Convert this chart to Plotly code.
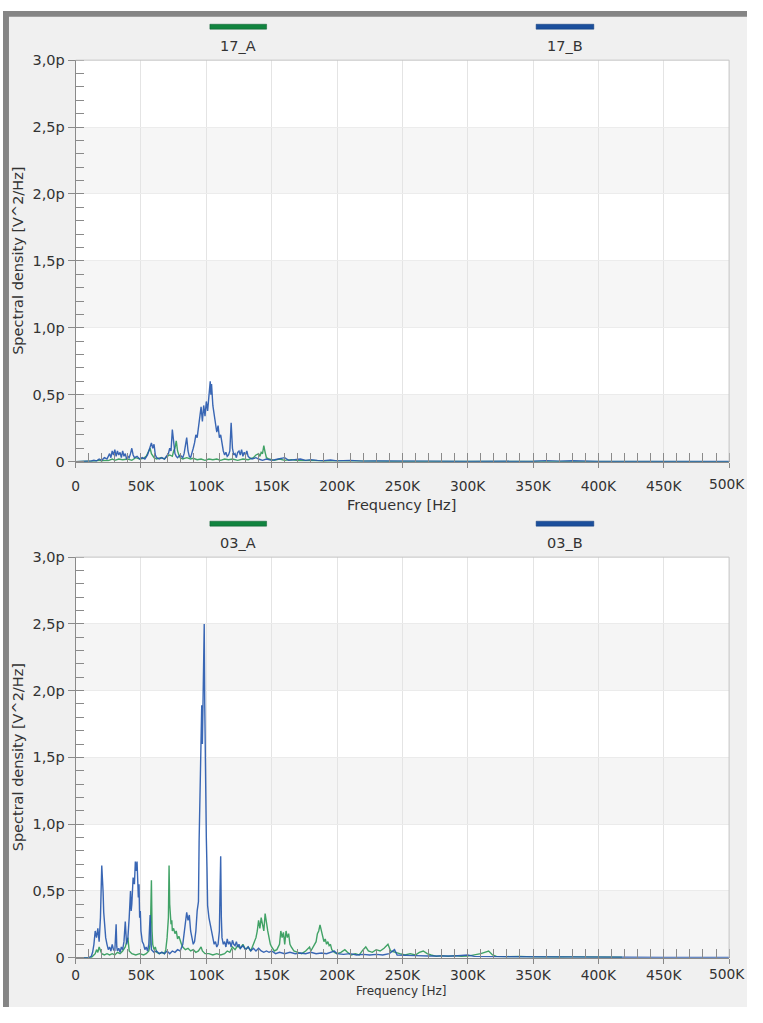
import plotly.graph_objects as go

# ---------------- data (frequency in kHz, spectral density in pV^2/Hz) ----------------
f_17B = [0, 10, 12, 14, 16, 18, 20, 22, 24, 26, 27, 28, 29, 30, 31, 32, 33, 34, 35, 36, 37, 38, 39, 40, 41, 42, 43, 44, 45, 47, 49, 51, 53, 55, 56, 57, 58, 59, 60, 61, 62, 64, 66, 68, 70, 71, 72, 73, 74, 75, 76, 77, 78, 80, 82, 83, 84, 85, 86, 87, 88, 89, 90, 91, 92, 93, 94, 95, 96, 97, 98, 99, 100, 101, 102, 103, 103.5, 104, 105, 106, 107, 108, 109, 110, 111, 112, 113, 114, 115, 116, 117, 118, 119, 120, 121, 122, 123, 124, 125, 126, 127, 128, 129, 130, 131, 132, 133, 135, 138, 140, 143, 146, 150, 155, 160, 163, 168, 172, 176, 180, 185, 190, 195, 200, 210, 220, 230, 250, 270, 300, 330, 350, 360, 370, 380, 390, 400, 420, 450, 500]
v_17B = [0, 0, 0.005, 0.01, 0.005, 0.02, 0.01, 0.03, 0.02, 0.06, 0.03, 0.08, 0.05, 0.09, 0.04, 0.08, 0.05, 0.07, 0.03, 0.08, 0.04, 0.06, 0.02, 0.04, 0.03, 0.06, 0.1, 0.05, 0.03, 0.04, 0.02, 0.03, 0.02, 0.05, 0.08, 0.12, 0.14, 0.1, 0.13, 0.05, 0.03, 0.02, 0.03, 0.02, 0.05, 0.06, 0.1, 0.08, 0.24, 0.12, 0.06, 0.04, 0.03, 0.05, 0.03, 0.06, 0.12, 0.18, 0.08, 0.04, 0.03, 0.06, 0.1, 0.14, 0.2, 0.18, 0.25, 0.3, 0.41, 0.3, 0.42, 0.34, 0.45, 0.38, 0.52, 0.6, 0.5, 0.58, 0.42, 0.35, 0.31, 0.22, 0.27, 0.18, 0.2, 0.12, 0.08, 0.05, 0.07, 0.04, 0.05, 0.08, 0.29, 0.1, 0.05, 0.06, 0.03, 0.07, 0.08, 0.05, 0.09, 0.04, 0.07, 0.05, 0.08, 0.04, 0.03, 0.02, 0.03, 0.02, 0.01, 0.02, 0.01, 0.02, 0.03, 0.01, 0.015, 0.02, 0.01, 0.015, 0.01, 0.008, 0.012, 0.006, 0.01, 0.004, 0.006, 0.003, 0.004, 0.002, 0.002, 0.003, 0.008, 0.004, 0.007, 0.004, 0.002, 0.001, 0.001, 0.001]

f_17A = [0, 12, 15, 18, 20, 22, 25, 28, 30, 33, 36, 40, 43, 46, 49, 52, 54, 56, 57, 58, 60, 62, 65, 68, 70, 72, 74, 75, 76, 77, 78, 79, 80, 82, 85, 88, 90, 93, 96, 99, 102, 105, 108, 111, 114, 117, 120, 124, 128, 132, 136, 138, 140, 141, 142, 143, 144, 145, 146, 148, 152, 156, 160, 165, 170, 180, 190, 200, 220, 250, 300, 350, 400, 450, 500]
v_17A = [0, 0, 0.005, 0.01, 0.005, 0.01, 0.008, 0.02, 0.01, 0.02, 0.015, 0.02, 0.01, 0.03, 0.02, 0.025, 0.04, 0.08, 0.1, 0.06, 0.03, 0.02, 0.03, 0.02, 0.04, 0.05, 0.04, 0.08, 0.1, 0.155, 0.08, 0.05, 0.03, 0.02, 0.03, 0.02, 0.025, 0.015, 0.02, 0.01, 0.02, 0.015, 0.02, 0.01, 0.02, 0.015, 0.02, 0.01, 0.02, 0.015, 0.03, 0.05, 0.06, 0.04, 0.07, 0.06, 0.12, 0.07, 0.03, 0.02, 0.01, 0.02, 0.01, 0.015, 0.008, 0.01, 0.005, 0.006, 0.003, 0.002, 0.001, 0.001, 0.001, 0.0005, 0.0005]

f_03B = [0, 10, 12, 13, 14, 15, 16, 17, 18, 19, 20, 20.5, 21, 21.5, 22, 23, 24, 25, 26, 27, 28, 29, 30, 31, 31.5, 32, 33, 34, 35, 36, 37, 38, 39, 40, 41, 42, 42.5, 43, 44, 45, 45.7, 46.5, 47, 47.5, 48, 48.5, 49, 49.5, 50, 51, 52, 53, 54, 55, 56, 57, 57.5, 58, 60, 62, 64, 66, 68, 70, 72, 74, 76, 78, 80, 82, 83, 84, 85, 86, 87, 88, 89, 90, 91, 92, 93, 94, 94.5, 95, 95.5, 96, 96.5, 97, 97.5, 98, 98.4, 98.8, 99.2, 99.7, 100, 100.5, 101, 102, 103, 104, 105, 106, 107, 108, 109, 110, 110.5, 111, 111.5, 112, 113, 114, 115, 116, 117, 118, 119, 120, 121, 122, 123, 124, 125, 126, 128, 130, 132, 134, 136, 138, 140, 142, 144, 146, 148, 150, 153, 156, 160, 164, 168, 172, 176, 180, 184, 188, 192, 196, 198, 200, 205, 210, 215, 220, 225, 230, 235, 240, 244, 246, 250, 260, 270, 280, 290, 300, 305, 320, 340, 360, 380, 400, 420, 450, 480, 500]
v_03B = [0, 0, 0.01, 0.04, 0.1, 0.2, 0.15, 0.22, 0.12, 0.3, 0.69, 0.62, 0.5, 0.34, 0.25, 0.15, 0.1, 0.06, 0.08, 0.05, 0.1, 0.06, 0.05, 0.25, 0.08, 0.05, 0.07, 0.04, 0.08, 0.06, 0.12, 0.27, 0.1, 0.15, 0.3, 0.5, 0.35, 0.4, 0.6, 0.55, 0.72, 0.65, 0.72, 0.5, 0.45, 0.55, 0.3, 0.35, 0.2, 0.12, 0.1, 0.06, 0.08, 0.05, 0.1, 0.32, 0.1, 0.06, 0.04, 0.05, 0.03, 0.04, 0.03, 0.05, 0.03, 0.05, 0.04, 0.06, 0.05, 0.1, 0.18, 0.25, 0.34, 0.28, 0.32, 0.2, 0.15, 0.1, 0.12, 0.2, 0.35, 0.42, 0.88, 1.2, 1.47, 1.7, 1.89, 1.6, 1.85, 2.2, 2.5, 1.9, 1.4, 1.27, 0.9, 0.68, 0.39, 0.3, 0.25, 0.2, 0.15, 0.1, 0.12, 0.08, 0.1, 0.2, 0.5, 0.76, 0.3, 0.15, 0.1, 0.12, 0.08, 0.14, 0.1, 0.12, 0.08, 0.13, 0.1, 0.09, 0.12, 0.08, 0.1, 0.07, 0.09, 0.06, 0.08, 0.05, 0.07, 0.05, 0.07, 0.05, 0.04, 0.05, 0.04, 0.05, 0.03, 0.04, 0.03, 0.04, 0.03, 0.035, 0.03, 0.04, 0.03, 0.035, 0.03, 0.04, 0.05, 0.03, 0.025, 0.03, 0.02, 0.025, 0.02, 0.025, 0.02, 0.03, 0.06, 0.02, 0.02, 0.015, 0.012, 0.01, 0.012, 0.02, 0.01, 0.008, 0.006, 0.008, 0.005, 0.004, 0.003, 0.002, 0.002, 0.002]

f_03A = [0, 12, 13, 15, 16, 17, 18, 19, 20, 22, 24, 26, 28, 30, 32, 34, 36, 38, 39, 40, 40.5, 41, 43, 46, 49, 52, 54, 56, 57, 58, 58.5, 59, 60, 61, 62, 64, 66, 68, 69, 70, 71, 71.5, 72, 73, 73.6, 74, 75, 76, 77, 78, 79, 80, 81, 82, 84, 86, 88, 90, 92, 94, 96, 97, 99, 102, 105, 108, 111, 114, 116, 118, 120, 122, 124, 126, 128, 130, 132, 134, 136, 138, 139, 140, 141, 142, 143, 144, 145, 146, 147, 148, 149, 150, 152, 154, 156, 157, 158, 159, 160, 161, 162, 163, 164, 165, 167, 170, 173, 176, 178, 179, 180, 182, 184, 185, 186, 187, 188, 189, 190, 191, 192, 193, 194, 195, 196, 198, 200, 203, 206, 208, 211, 214, 217, 220, 222, 224, 227, 230, 233, 236, 239, 241, 244, 248, 252, 256, 260, 263, 266, 269, 272, 276, 280, 285, 290, 295, 300, 305, 310, 313, 316, 319, 322, 330, 340, 350, 360, 370, 380, 390, 400, 410, 418]
v_03A = [0, 0, 0.01, 0.03, 0.06, 0.04, 0.08, 0.05, 0.03, 0.02, 0.03, 0.02, 0.03, 0.02, 0.04, 0.03, 0.05, 0.08, 0.12, 0.15, 0.1, 0.05, 0.03, 0.02, 0.03, 0.02, 0.03, 0.05, 0.1, 0.58, 0.2, 0.1, 0.06, 0.08, 0.04, 0.03, 0.04, 0.03, 0.06, 0.15, 0.3, 0.69, 0.4, 0.25, 0.28, 0.2, 0.22, 0.18, 0.2, 0.14, 0.16, 0.12, 0.1, 0.08, 0.06, 0.07, 0.05, 0.06, 0.04, 0.05, 0.08, 0.05, 0.03, 0.03, 0.02, 0.03, 0.02, 0.03, 0.05, 0.04, 0.08, 0.06, 0.09, 0.07, 0.1, 0.06, 0.08, 0.05, 0.1, 0.15, 0.2, 0.28, 0.22, 0.3, 0.25, 0.2, 0.33, 0.25, 0.2, 0.15, 0.1, 0.08, 0.05, 0.06, 0.1, 0.2, 0.15, 0.19, 0.1, 0.2, 0.15, 0.18, 0.1, 0.08, 0.05, 0.04, 0.03, 0.05, 0.07, 0.08, 0.05, 0.08, 0.12, 0.18, 0.2, 0.245, 0.2, 0.15, 0.12, 0.14, 0.1, 0.12, 0.09, 0.1, 0.06, 0.04, 0.03, 0.04, 0.06, 0.04, 0.02, 0.03, 0.02, 0.06, 0.08, 0.05, 0.04, 0.06, 0.05, 0.07, 0.1, 0.05, 0.04, 0.03, 0.02, 0.03, 0.02, 0.04, 0.05, 0.03, 0.02, 0.01, 0.015, 0.01, 0.015, 0.01, 0.012, 0.02, 0.03, 0.04, 0.05, 0.02, 0.01, 0.008, 0.01, 0.006, 0.008, 0.005, 0.006, 0.005, 0.004, 0.004, 0.003]

x_tickvals = [0, 50, 100, 150, 200, 250, 300, 350, 400, 450, 500]
x_ticktext = ["0", "50K", "100K", "150K", "200K", "250K", "300K", "350K", "400K", "450K", "500K"]
y_tickvals = [0, 0.5, 1.0, 1.5, 2.0, 2.5, 3.0]
y_ticktext = ["0", "0,5p", "1,0p", "1,5p", "2,0p", "2,5p", "3,0p"]

panels = [
    {"names": ("17_A", "17_B"), "green": (f_17A, v_17A), "blue": (f_17B, v_17B)},
    {"names": ("03_A", "03_B"), "green": (f_03A, v_03A), "blue": (f_03B, v_03B)},
]

# ---------------- styling ----------------
# the page body keeps an 8px margin, so the figure is shrunk by 16px and
# window-pixel positions are shifted by OFF
OFF = 8
W, H = 763 - 2 * OFF, 1023 - 2 * OFF
FONT = "DejaVu Sans"
FS = 14.5
FSX = 13.8
GREEN = "#2f9a58"
BLUE = "#2557ad"
GREEN_LEG = "#11843f"
BLUE_LEG = "#1b4f9c"
TXT = "#333333"


def px_x(p):
    return (p - OFF) / W


def px_y(p):
    return 1 - (p - OFF) / H


x_dom = [px_x(80), px_x(737)]
plot_px = [(61, 469), (566, 973)]
xlab_standoff = [7, 0]
xtitle_gap = [44, 33.5]
xtitle_size = [FS, 12]

fig = go.Figure()

# outer frame
fig.add_shape(type="rect", xref="paper", yref="paper", x0=px_x(7), x1=1.05, y0=-0.05, y1=px_y(11),
              fillcolor="#858585", line_width=0, layer="below")
fig.add_shape(type="rect", xref="paper", yref="paper", x0=px_x(13), x1=1.05, y0=-0.05, y1=px_y(17),
              fillcolor="#f0f0f0", line_width=0, layer="below")

for i, pnl in enumerate(panels):
    n = "" if i == 0 else str(i + 1)
    xa, ya = "x" + n, "y" + n
    top, bot = plot_px[i]
    fig.add_trace(go.Scatter(x=pnl["green"][0], y=pnl["green"][1], mode="lines", xaxis=xa, yaxis=ya,
                             line=dict(color=GREEN, width=1.4), opacity=0.9, showlegend=False))
    fig.add_trace(go.Scatter(x=pnl["blue"][0], y=pnl["blue"][1], mode="lines", xaxis=xa, yaxis=ya,
                             line=dict(color=BLUE, width=1.4), opacity=0.9, showlegend=False))

    fig.layout["xaxis" + n] = dict(
        domain=x_dom, anchor=ya, range=[0, 500], tickvals=x_tickvals, ticktext=x_ticktext,
        ticks="outside", ticklen=5, tickcolor="#888888", showgrid=True, gridcolor="#e4e4e4",
        showline=True, linecolor="#8a8a8a", linewidth=1, zeroline=False,
        ticklabelstandoff=xlab_standoff[i],
        tickfont=dict(family=FONT, size=FSX, color=TXT),
        minor=dict(dtick=10, tick0=0, ticks="inside", ticklen=9, tickcolor="#8a8a8a", showgrid=False),
    )
    fig.layout["yaxis" + n] = dict(
        domain=[px_y(bot), px_y(top)], anchor=xa, range=[0, 3.0], tickvals=y_tickvals, ticktext=y_ticktext,
        ticks="outside", ticklen=7, tickcolor="#8a8a8a", showgrid=True, gridcolor="#ececec",
        showline=True, linecolor="#8a8a8a", linewidth=1, zeroline=False,
        tickfont=dict(family=FONT, size=FS, color=TXT),
        minor=dict(dtick=0.1, tick0=0, ticks="inside", ticklen=8, tickcolor="#8a8a8a", showgrid=False),
    )
    # the last x tick label would overflow the page edge (and be hidden), so it is written
    # right-aligned against the edge
    fig.add_annotation(x=1, y=px_y(bot + 6 + xlab_standoff[i]), xref="paper", yref="paper",
                       text=x_ticktext[-1], showarrow=False, xanchor="right", yanchor="top",
                       font=dict(family=FONT, size=FSX, color=TXT))
    # white plot area, then alternating bands
    fig.add_shape(type="rect", xref=xa + " domain", yref=ya + " domain", x0=0, x1=1, y0=0, y1=1,
                  fillcolor="white", line_width=0, layer="below")
    for b0 in [0.0, 1.0, 2.0]:
        fig.add_shape(type="rect", xref=xa, yref=ya, x0=0, x1=500, y0=b0, y1=b0 + 0.5,
                      fillcolor="#f6f6f6", line_width=0, layer="below")
    # top & right light border
    fig.add_shape(type="line", xref=xa + " domain", yref=ya + " domain", x0=0, x1=1, y0=1, y1=1,
                  line=dict(color="#c4c4c4", width=1))
    fig.add_shape(type="line", xref=xa + " domain", yref=ya + " domain", x0=1, x1=1, y0=0, y1=1,
                  line=dict(color="#c4c4c4", width=1))

    # legend
    leg_y = top - 34
    for (x0p, x1p, col, edge, name) in [(215, 272, GREEN_LEG, "#0d5a30", pnl["names"][0]),
                                        (543, 601, BLUE_LEG, "#123b78", pnl["names"][1])]:
        fig.add_shape(type="rect", xref="paper", yref="paper", x0=px_x(x0p), x1=px_x(x1p),
                      y0=px_y(leg_y + 2.5), y1=px_y(leg_y - 2.5), fillcolor=col,
                      line=dict(color=edge, width=0.5))
        fig.add_annotation(x=px_x((x0p + x1p) / 2), y=px_y(leg_y + 20), xref="paper", yref="paper",
                           text=name, showarrow=False, xanchor="center", yanchor="middle",
                           font=dict(family=FONT, size=FS, color=TXT))
    # axis titles
    fig.add_annotation(x=px_x(22), y=px_y((top + bot) / 2), xref="paper", yref="paper",
                       text="Spectral density [V^2/Hz]", textangle=-90, showarrow=False,
                       xanchor="center", yanchor="middle", font=dict(family=FONT, size=FS, color=TXT))
    fig.add_annotation(x=px_x(408), y=px_y(bot + xtitle_gap[i]), xref="paper", yref="paper",
                       text="Frequency [Hz]", showarrow=False, xanchor="center", yanchor="middle",
                       font=dict(family=FONT, size=xtitle_size[i], color=TXT))

fig.update_layout(
    width=W, height=H, margin=dict(l=0, r=0, t=0, b=0),
    paper_bgcolor="white", plot_bgcolor="white", showlegend=False,
    font=dict(family=FONT, size=FS, color=TXT),
)

fig.write_html("out.html")
